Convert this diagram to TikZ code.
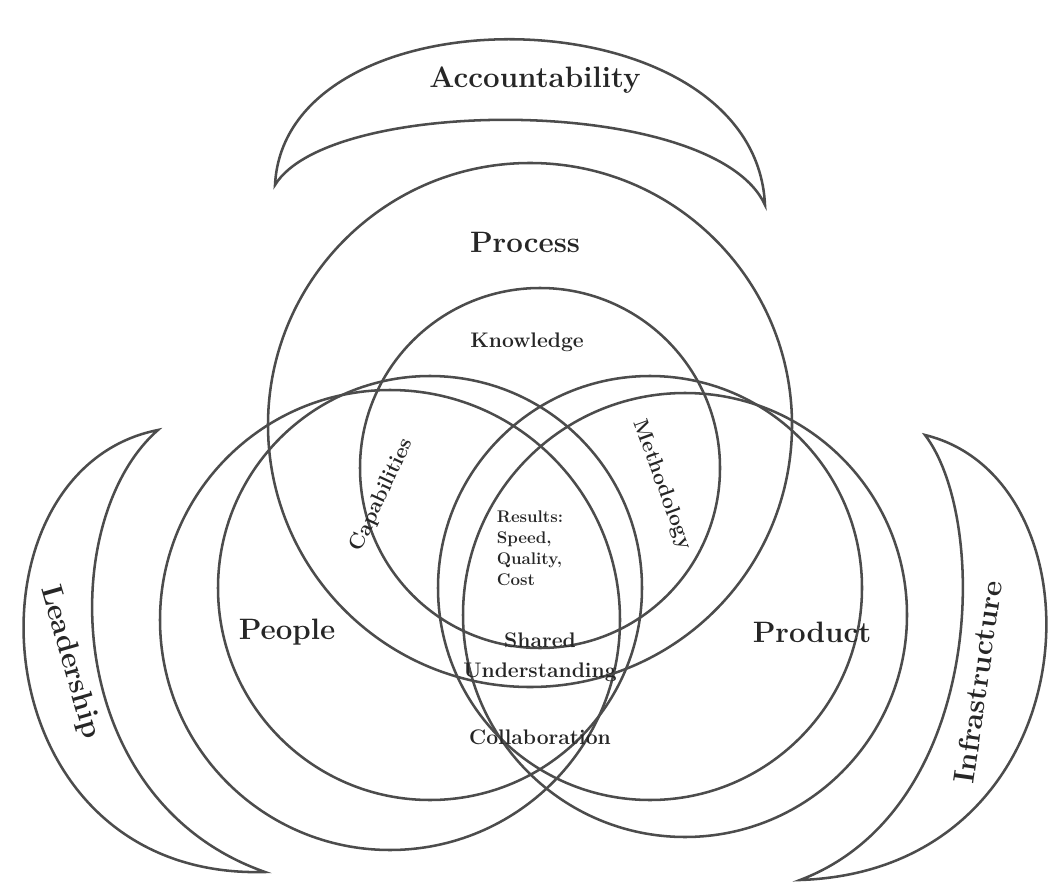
\documentclass[tikz,border=0pt]{standalone}
\usepackage{tikz}
\begin{document}
\begin{tikzpicture}[x=0.025cm,y=-0.025cm,
  ring/.style={draw=black!70,line width=1.8pt},
  biglabel/.style={font=\fontsize{21}{24}\selectfont\bfseries,text=black!85},
  midlabel/.style={font=\fontsize{15}{18}\selectfont\bfseries,text=black!85},
  corelabel/.style={font=\fontsize{12}{15}\selectfont\bfseries,text=black!85,
                    align=left}]
  \useasboundingbox (0,0) rectangle (1051,892);
  % The three outer crescents.
  \draw[ring] (275,185) .. controls (285,-15) and (755,-10) .. (765,205)
    .. controls (715,95) and (330,95) .. cycle;
  \draw[ring] (158,430) .. controls (-45,470) and (-25,880) .. (265,872)
    .. controls (60,800) and (55,520) .. cycle;
  \draw[ring] (925,435) .. controls (1110,480) and (1095,870) .. (800,880)
    .. controls (985,810) and (990,520) .. cycle;
  % Three large circles and three inner ones.
  \draw[ring] (530,425) circle [radius=262];
  \draw[ring] (390,620) circle [radius=230];
  \draw[ring] (685,615) circle [radius=222];
  \draw[ring] (540,468) circle [radius=180];
  \draw[ring] (430,588) circle [radius=212];
  \draw[ring] (650,588) circle [radius=212];
  % Labels.
  \node[biglabel] (acc) at (535,80) {Accountability};
  \node[biglabel] (proc) at (525,242) {Process};
  \node[biglabel] (peop) at (287,632) {People};
  \node[biglabel] (prod) at (812,632) {Product};
  \node[biglabel,rotate=-74] (lead) at (70,662) {Leadership};
  \node[biglabel,rotate=82] (infra) at (978,682) {Infrastructure};
  \node[midlabel] (know) at (527,342) {Knowledge};
  \node[midlabel,rotate=65] (capa) at (382,495) {Capabilities};
  \node[midlabel,rotate=-70] (meth) at (662,485) {Methodology};
  \node[corelabel] (core) at (530,548) {Results:\\Speed,\\Quality,\\Cost};
  \node[midlabel] (shar) at (540,640) {Shared};
  \node[midlabel] (unde) at (540,672) {Understanding};
  \node[midlabel] (coll) at (540,737) {Collaboration};
\end{tikzpicture}
\end{document}
